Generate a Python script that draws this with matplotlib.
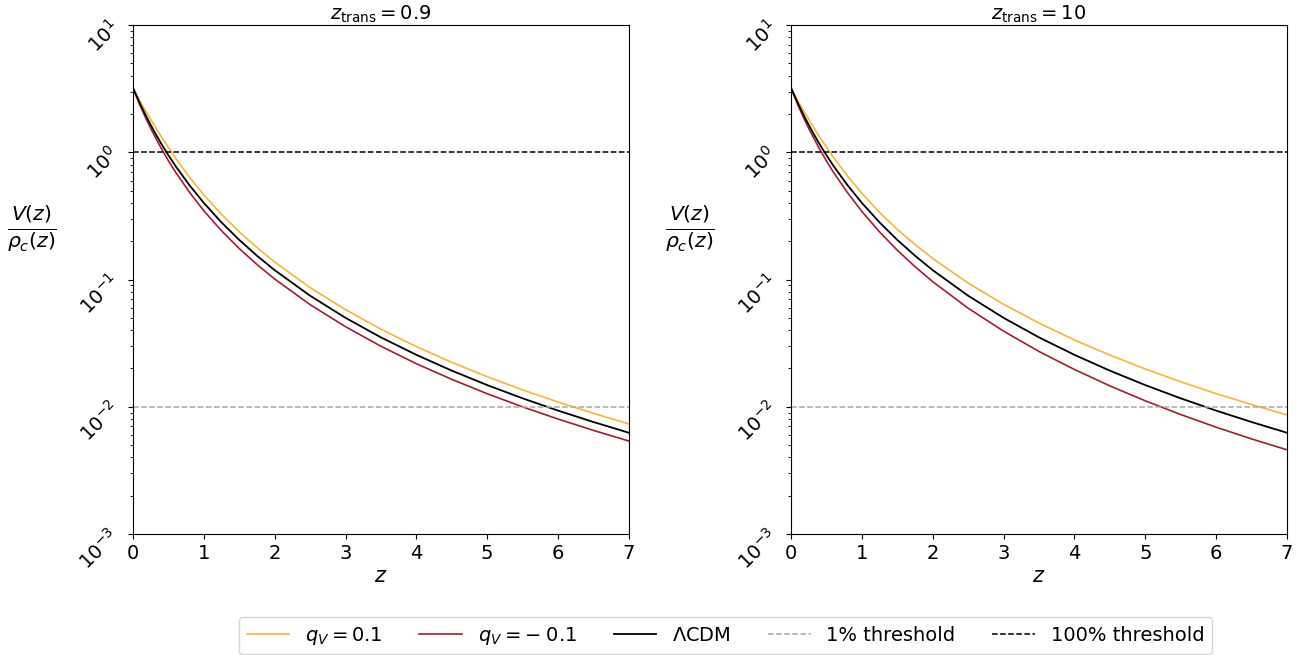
import numpy as np
import matplotlib
matplotlib.use("Agg")
import matplotlib.pyplot as plt

# redshift grid
z = [0, 0.1, 0.2, 0.3, 0.4, 0.5, 0.6, 0.8, 1.0, 1.25, 1.5, 1.75, 2.0,
     2.5, 3.0, 3.5, 4.0, 4.5, 5.0, 5.5, 6.0, 6.5, 7.0]

# V(z)/rho_c(z) for LCDM (same in both panels)
lcdm = [3.200, 2.404, 1.852, 1.457, 1.166, 0.948, 0.781, 0.549, 0.400,
        0.281, 0.2048, 0.1539, 0.1185, 0.0746, 0.0500, 0.0351, 0.0256,
        0.01923, 0.01481, 0.01165, 0.00933, 0.00759, 0.00625]

# z_trans = 0.9
pos_09 = [3.200, 2.524, 2.019, 1.632, 1.329, 1.090, 0.902, 0.635, 0.463,
          0.325, 0.2372, 0.1782, 0.1372, 0.0864, 0.0580, 0.0407, 0.0297,
          0.02235, 0.01724, 0.01358, 0.01090, 0.00888, 0.00733]
neg_09 = [3.200, 2.332, 1.759, 1.362, 1.070, 0.858, 0.699, 0.483, 0.347,
          0.2417, 0.1751, 0.1313, 0.1010, 0.0635, 0.0426, 0.0299, 0.0218,
          0.01642, 0.01266, 0.00998, 0.00801, 0.00652, 0.00538]

# z_trans = 10
pos_10 = [3.200, 2.524, 2.019, 1.632, 1.329, 1.095, 0.910, 0.648, 0.476,
          0.337, 0.2478, 0.1885, 0.1463, 0.0938, 0.0639, 0.0455, 0.0335,
          0.02548, 0.01982, 0.01573, 0.01269, 0.01041, 0.00863]
neg_10 = [3.200, 2.332, 1.759, 1.358, 1.068, 0.855, 0.695, 0.479, 0.343,
          0.2366, 0.1700, 0.1262, 0.0962, 0.0595, 0.0393, 0.0272, 0.01964,
          0.01460, 0.01114, 0.00869, 0.00691, 0.00559, 0.00459]

panels = [("0.9", pos_09, neg_09), ("10", pos_10, neg_10)]

YELLOW = "#f3b73a"
CRIMSON = "#a51c30"

fig = plt.figure(figsize=(13, 6.55), dpi=100)
axes = [fig.add_axes([0.1023, 0.1847, 0.3815, 0.777]),
        fig.add_axes([0.6085, 0.1847, 0.3815, 0.777])]

for ax, (zt, pos, neg) in zip(axes, panels):
    ax.plot(z, pos, color=YELLOW, lw=1.2, label=r"$q_V = 0.1$")
    ax.plot(z, neg, color=CRIMSON, lw=1.2, label=r"$q_V = -\;0.1$")
    ax.plot(z, lcdm, color="black", lw=1.3, label=r"$\Lambda$CDM")
    ax.axhline(0.01, color="#aaaaaa", ls="--", lw=1.1, label="1% threshold")
    ax.axhline(1.0, color="black", ls="--", lw=1.1, label="100% threshold")
    ax.set_yscale("log")
    ax.set_xlim(0, 7)
    ax.set_ylim(1e-3, 1e1)
    ax.set_title(r"$z_{\rm trans} = %s$" % zt, fontsize=14, pad=3)
    ax.set_xlabel(r"$z$", fontsize=15, labelpad=2)
    ax.set_ylabel(r"$\frac{V(z)}{\rho_c(z)}$", fontsize=21, rotation=0,
                  va="center", ha="center")
    ax.yaxis.set_label_coords(-0.204, 0.60)
    ax.tick_params(axis="both", labelsize=14)
    for lab in ax.get_yticklabels():
        lab.set_rotation(45)

handles, labels = axes[0].get_legend_handles_labels()
fig.legend(handles, labels, loc="lower center", ncol=5, fontsize=14,
           bbox_to_anchor=(0.558, -0.014), frameon=True, columnspacing=1.9,
           handlelength=2.2)

fig.savefig("out.png", dpi=100)
